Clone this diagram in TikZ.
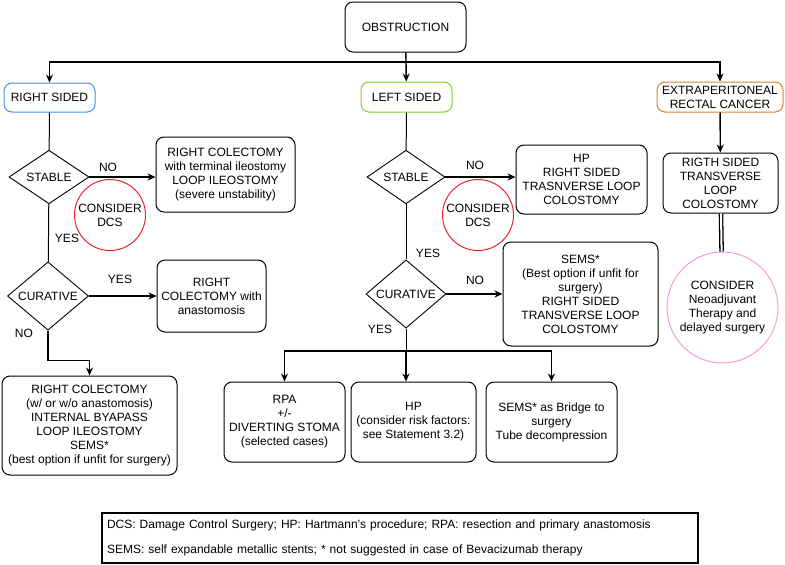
\documentclass[tikz,border=0pt]{standalone}
\usepackage{fontspec}
\setmainfont{Liberation Sans}
\usetikzlibrary{shapes.geometric,arrows.meta}

\definecolor{rsblue}{HTML}{4A90E2}
\definecolor{lsgreen}{HTML}{7ED321}
\definecolor{exorange}{HTML}{D9822B}
\definecolor{dcsred}{HTML}{E8262A}
\definecolor{neopink}{HTML}{F59AD6}

\begin{document}
\begin{tikzpicture}[
    x=1pt, y=-1pt,
    every node/.style={font=\fontsize{12}{14}\selectfont, align=center},
    box/.style={rectangle, draw, rounded corners=8pt, line width=1pt, inner sep=2pt},
    choice/.style={diamond, draw, line width=0.9pt, inner sep=0pt, minimum width=80pt, minimum height=49pt},
    note/.style={circle, draw, line width=1pt, inner sep=0pt},
    arr/.style={-{Stealth[length=8pt, width=7pt]}, line width=1.4pt},
    link/.style={line width=1pt},
    lbl/.style={inner sep=0pt}
]
\useasboundingbox (0,0) rectangle (785,565);

% Nodes
\node[box, minimum width=121pt, minimum height=50pt] (obs) at (405.5,27) {OBSTRUCTION};
\node[box, draw=rsblue, minimum width=91pt, minimum height=29pt] (rside) at (49.5,97.5) {RIGHT SIDED};
\node[box, draw=lsgreen, minimum width=91pt, minimum height=30pt] (lside) at (406.5,97) {LEFT SIDED};
\node[box, draw=exorange, minimum width=126pt, minimum height=30pt, inner sep=1pt] (extra) at (720,97) {EXTRAPERITONEAL\\RECTAL CANCER};
\coordinate (split) at (405,62);

% right sided
\node[choice] (stab1) at (49,177) {STABLE};
\node[box, minimum width=139pt, minimum height=75pt] (rcterm) at (225.5,174.5) {RIGHT COLECTOMY\\with terminal ileostomy\\LOOP ILEOSTOMY\\(severe unstability)};
\node[note, draw=dcsred, minimum size=71pt] (dcs1) at (110,215) {CONSIDER\\DCS};
\node[choice, minimum width=81pt, minimum height=50pt] (cur1) at (48,296) {CURATIVE};
\node[box, minimum width=109pt, minimum height=72pt] (rcanas) at (211.5,296) {RIGHT\\COLECTOMY with\\anastomosis};
\node[box, minimum width=175pt, minimum height=99pt] (rcpal) at (89.5,425.5) {RIGHT COLECTOMY\\(w/ or w/o anastomosis)\\INTERNAL BYAPASS\\LOOP ILEOSTOMY\\SEMS*\\(best option if unfit for surgery)};

% left sided
\node[choice, minimum width=78pt] (stab2) at (406,177) {STABLE};
\node[box, minimum width=131pt, minimum height=69pt] (hpcol) at (581.5,179.5) {HP\\RIGHT SIDED\\TRASNVERSE LOOP\\COLOSTOMY};
\node[note, draw=dcsred, minimum size=71pt] (dcs2) at (478,215) {CONSIDER\\DCS};
\node[choice] (cur2) at (406,294) {CURATIVE};
\node[box, minimum width=155pt, minimum height=104pt] (semscol) at (580.5,294) {SEMS*\\(Best option if unfit for\\surgery)\\RIGHT SIDED\\TRANSVERSE LOOP\\COLOSTOMY};
\coordinate (split2) at (406,351);
\node[box, minimum width=121pt, minimum height=80pt] (rpa) at (284.5,422) {RPA\\+/-\\DIVERTING STOMA\\(selected cases)};
\node[box, minimum width=125pt, minimum height=80pt] (hprisk) at (413.5,422) {HP\\(consider risk factors:\\see Statement 3.2)};
\node[box, minimum width=131pt, minimum height=80pt] (semsbr) at (551.5,422) {SEMS* as Bridge to\\surgery\\Tube decompression};

% rectal cancer
\node[box, minimum width=115pt, minimum height=60pt] (rtcol) at (720.5,183) {RIGTH SIDED\\TRANSVERSE\\LOOP\\COLOSTOMY};
\node[note, draw=neopink, minimum size=111pt] (neo) at (722.5,307.5) {CONSIDER\\Neoadjuvant\\Therapy and\\delayed surgery};

% legend
\node[rectangle, draw, line width=1.2pt, minimum width=596pt, minimum height=50pt, text width=586pt, align=left, inner xsep=5pt, inner ysep=2pt] (legend) at (400,538) {DCS: Damage Control Surgery; HP: Hartmann's procedure; RPA: resection and primary anastomosis\\[11pt]SEMS: self expandable metallic stents; * not suggested in case of Bevacizumab therapy};

% Arrows from the top
\draw[arr] (obs) -- (lside);
\draw[arr] (split) -| (rside);
\draw[arr] (split) -| (extra);

% Right sided branch
\draw[link] (rside) -- (stab1);
\draw[arr] (stab1.east) -- (stab1.east -| rcterm.west);
\draw[link] (stab1) -- (cur1);
\draw[arr] (cur1.east) -- (rcanas.west);
\draw[arr] (cur1.south) -- ++(0,30) -| (rcpal);

% Left sided branch
\draw[link] (lside) -- (stab2);
\draw[arr] (stab2.east) -- (stab2.east -| hpcol.west);
\draw[link] (stab2) -- (cur2);
\draw[arr] (cur2.east) -- (semscol.west);
\draw[link] (cur2) -- (split2);
\draw[arr] (split2) -| (rpa);
\draw[arr] (split2) -| (semsbr);
\draw[arr] (split2) -- (split2 |- hprisk.north);

% Rectal branch
\draw[arr] (extra) -- (rtcol);
\draw[double, double distance=2pt, line width=1.3pt] (rtcol) -- (neo);

% Labels
\node[lbl] (no1) at (108,167) {NO};
\node[lbl] (yes1) at (67,238) {YES};
\node[lbl] (yes2) at (120,279) {YES};
\node[lbl] (no2) at (24,333) {NO};
\node[lbl] (no3) at (475,165) {NO};
\node[lbl] (yes3) at (428,253) {YES};
\node[lbl] (no4) at (475,280) {NO};
\node[lbl] (yes4) at (380,329) {YES};

\end{tikzpicture}
\end{document}
